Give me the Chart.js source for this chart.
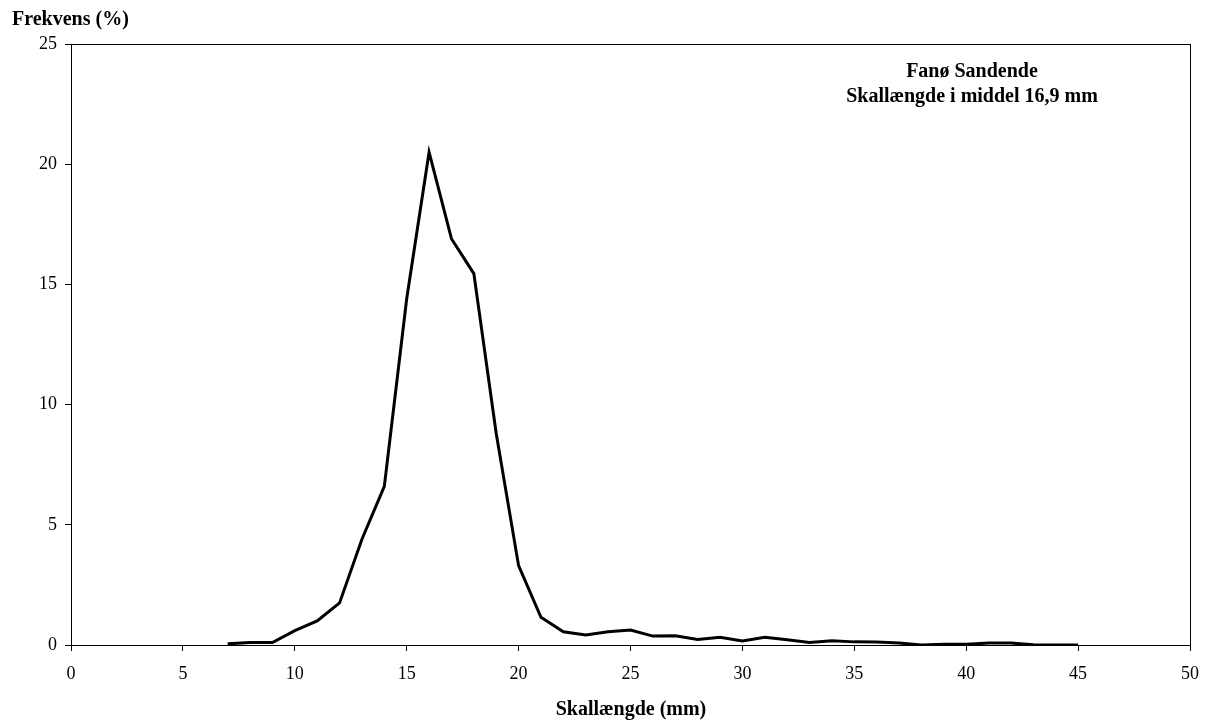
<!DOCTYPE html>
<html>
<head>
<meta charset="utf-8">
<script src="https://cdn.jsdelivr.net/npm/chart.js@4/dist/chart.umd.min.js"></script>
<style>
  html, body { margin: 0; padding: 0; background: #fff; }
  #freq { display: block; }
</style>
</head>
<body>
<canvas id="freq" width="1207" height="724"></canvas>
<script>
// shell length classes (mm) and frequency (%)
const lengths = [7, 8, 9, 10, 11, 12, 13, 14, 15, 16, 17, 18, 19, 20, 21, 22, 23, 24, 25, 26,
  27, 28, 29, 30, 31, 32, 33, 34, 35, 36, 37, 38, 39, 40, 41, 42, 43, 44, 45];
const frequency = [0.05, 0.1, 0.1, 0.6, 1.0, 1.75, 4.4, 6.6, 14.4, 20.5, 16.9, 15.45, 8.8, 3.3, 1.15, 0.55, 0.42, 0.55, 0.62, 0.37,
  0.38, 0.23, 0.32, 0.17, 0.32, 0.22, 0.1, 0.18, 0.13, 0.12, 0.08, 0.0, 0.03, 0.03, 0.08, 0.08, 0.01, 0.0, 0.0];
const xTicks = [0, 5, 10, 15, 20, 25, 30, 35, 40, 45, 50];
const yTicks = [0, 5, 10, 15, 20, 25];

const title1 = 'Fanø Sandende';
const title2 = 'Skallængde i middel 16,9 mm';
const yTitle = 'Frekvens (%)';
const xTitle = 'Skallængde (mm)';

const serif = '"Liberation Serif", "Times New Roman", serif';

// draws the plot frame and the text labels
const frameAndText = {
  id: 'frameAndText',
  afterDraw(chart) {
    const { ctx, chartArea } = chart;
    ctx.save();
    ctx.strokeStyle = '#000';
    ctx.lineWidth = 1;
    ctx.strokeRect(chartArea.left + 0.5, chartArea.top + 0.5,
      chartArea.right - chartArea.left, chartArea.bottom - chartArea.top);

    ctx.fillStyle = '#000';
    ctx.font = 'bold 20px ' + serif;
    ctx.textBaseline = 'middle';
    ctx.textAlign = 'center';
    ctx.fillText(title1, 972, 72);
    ctx.fillText(title2, 972, 97);

    ctx.textAlign = 'left';
    ctx.fillText(yTitle, 12, 20);

    ctx.textAlign = 'center';
    ctx.fillText(xTitle, 631, 710);
    ctx.restore();
  }
};

const ctx = document.getElementById('freq');

new Chart(ctx, {
  type: 'line',
  data: {
    datasets: [{
      data: lengths.map((l, i) => ({ x: l, y: frequency[i] })),
      borderColor: '#000',
      borderWidth: 3,
      pointRadius: 0,
      tension: 0,
      fill: false
    }]
  },
  options: {
    responsive: false,
    animation: false,
    layout: { padding: { left: 0, right: 17, top: 44, bottom: 0 } },
    plugins: {
      legend: { display: false },
      tooltip: { enabled: false }
    },
    scales: {
      x: {
        type: 'linear',
        min: 0,
        max: 50,
        afterFit: scale => {
          scale.height = 79;
          scale.paddingLeft = 0;
          scale.paddingRight = 0;
        },
        afterBuildTicks: scale => { scale.ticks = xTicks.map(v => ({ value: v })); },
        grid: { drawOnChartArea: false, color: '#000', tickLength: 6, tickColor: '#000' },
        border: { color: '#000', width: 1 },
        ticks: {
          color: '#000',
          padding: 12,
          maxRotation: 0,
          font: { family: serif, size: 18 }
        }
      },
      y: {
        min: 0,
        max: 25,
        afterFit: scale => {
          scale.width = 71;
          scale.paddingTop = 0;
          scale.paddingBottom = 0;
        },
        afterBuildTicks: scale => { scale.ticks = yTicks.map(v => ({ value: v })); },
        grid: { drawOnChartArea: false, color: '#000', tickLength: 6, tickColor: '#000' },
        border: { color: '#000', width: 1 },
        ticks: {
          color: '#000',
          padding: 8,
          font: { family: serif, size: 18 }
        }
      }
    }
  },
  plugins: [frameAndText]
});
</script>
</body>
</html>
